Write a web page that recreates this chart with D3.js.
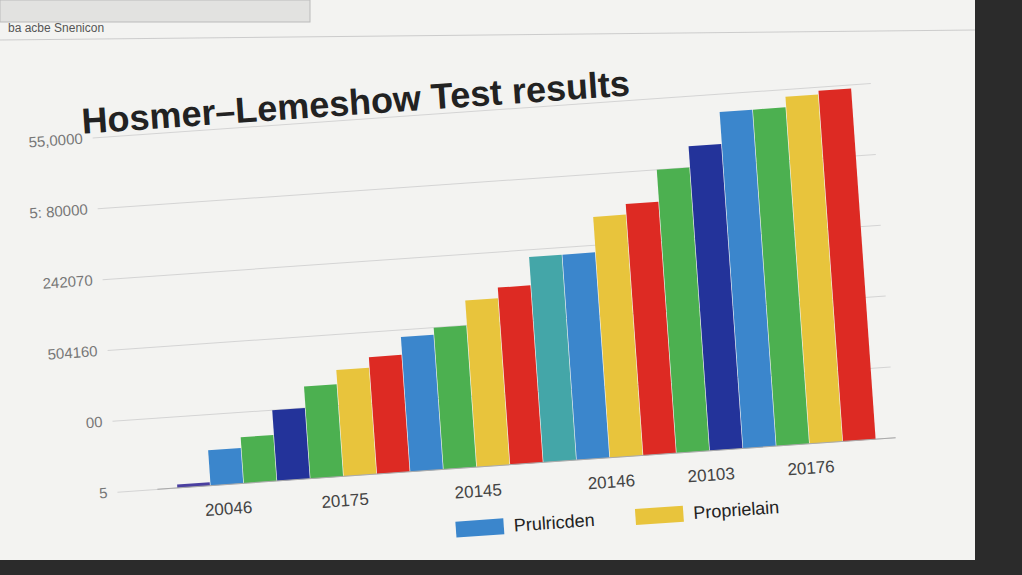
<!DOCTYPE html>
<html><head><meta charset="utf-8">
<script src="https://cdn.jsdelivr.net/npm/d3@7"></script>
<style>
body{margin:0;background:#2b2b2b;overflow:hidden;font-family:"Liberation Sans",Arial,sans-serif}
#screen{position:absolute;left:0;top:0;width:975px;height:560px;background:#f3f3f1}
</style></head><body>
<div id="screen"></div>
<script>
var groups = ["20046","20175","20145","20146","20103","20176"];
var values = [
  [1,10,13],
  [20,26,30,33],
  [38,40,47,50],
  [58,58,68,71],
  [80,86],
  [95,95,98,99]
];
var groupColors = [
  ["#4a3fa0","#3b86cc","#4cb050"],
  ["#23339a","#4cb050","#e8c43c","#dd2a23"],
  ["#3b86cc","#4cb050","#e8c43c","#dd2a23"],
  ["#44a6a8","#3b86cc","#e8c43c","#dd2a23"],
  ["#4cb050","#23339a"],
  ["#3b86cc","#4cb050","#e8c43c","#dd2a23"]
];
var yTicks = [0,20,40,60,80,100];
var yTickLabels = ["5","00","504160","242070","5: 80000","55,0000"];
var legendItems = [{name:"Prulricden",color:"#3b86cc"},{name:"Proprielain",color:"#e8c43c"}];

var W=975,H=560;
var svg=d3.select("#screen").append("svg").attr("width",W).attr("height",H);
svg.append("rect").attr("x",0).attr("y",0).attr("width",310).attr("height",22).attr("fill","#e2e2e0").attr("stroke","#bbb");
svg.append("text").attr("x",8).attr("y",32).attr("font-size",12).attr("fill","#555").text("ba acbe Snenicon");
svg.append("line").attr("x1",0).attr("x2",W).attr("y1",40).attr("y2",30).attr("stroke","#ccc");

var g=svg.append("g").attr("transform","rotate(-4 500 300)");
g.append("text").attr("x",95).attr("y",105).attr("font-size",36).attr("font-weight","600").attr("fill","#222").text("Hosmer–Lemeshow Test results");

// flatten bars in order
var bars=[];
values.forEach((row,gi)=>row.forEach((v,si)=>bars.push({id:gi+"_"+si,g:gi,v:v,c:groupColors[gi][si]})));

var m={left:165,top:110,right:110,bottom:95};
var x=d3.scaleBand().domain(bars.map(d=>d.id)).range([m.left,W-m.right]).paddingInner(0.02);
var y=d3.scaleLinear().domain([0,100]).range([H-m.bottom,m.top]);

g.selectAll(".grid").data(yTicks).enter().append("line")
  .attr("x1",m.left-60).attr("x2",W-m.right+20).attr("y1",d=>y(d)).attr("y2",d=>y(d))
  .attr("stroke","#d4d4d4");
g.selectAll(".yl").data(yTicks).enter().append("text")
  .attr("x",m.left-70).attr("y",d=>y(d)+5).attr("text-anchor","end").attr("font-size",15).attr("fill","#777")
  .text((d,i)=>yTickLabels[i]);

g.selectAll(".bar").data(bars).enter().append("rect")
  .attr("x",d=>x(d.id)).attr("width",x.bandwidth())
  .attr("y",d=>y(d.v)).attr("height",d=>y(0)-y(d.v)).attr("fill",d=>d.c);

g.append("line").attr("x1",m.left-20).attr("x2",W-m.right+20).attr("y1",y(0)).attr("y2",y(0)).attr("stroke","#aaa");
g.selectAll(".xl").data(groups).enter().append("text")
  .attr("x",(d,gi)=>{var b=bars.filter(o=>o.g===gi);return (x(b[0].id)+x(b[b.length-1].id)+x.bandwidth())/2;})
  .attr("y",y(0)+30).attr("text-anchor","middle").attr("font-size",17).attr("fill","#444").text(d=>d);

var lg=g.append("g").attr("transform","translate(440,"+(H-28)+")");
legendItems.forEach(function(d,i){
  var it=lg.append("g").attr("transform","translate("+(i*180)+",0)");
  it.append("rect").attr("x",0).attr("y",-14).attr("width",48).attr("height",16).attr("fill",d.color);
  it.append("text").attr("x",58).attr("y",0).attr("font-size",18).attr("fill","#222").text(d.name);
});
</script>
</body></html>
